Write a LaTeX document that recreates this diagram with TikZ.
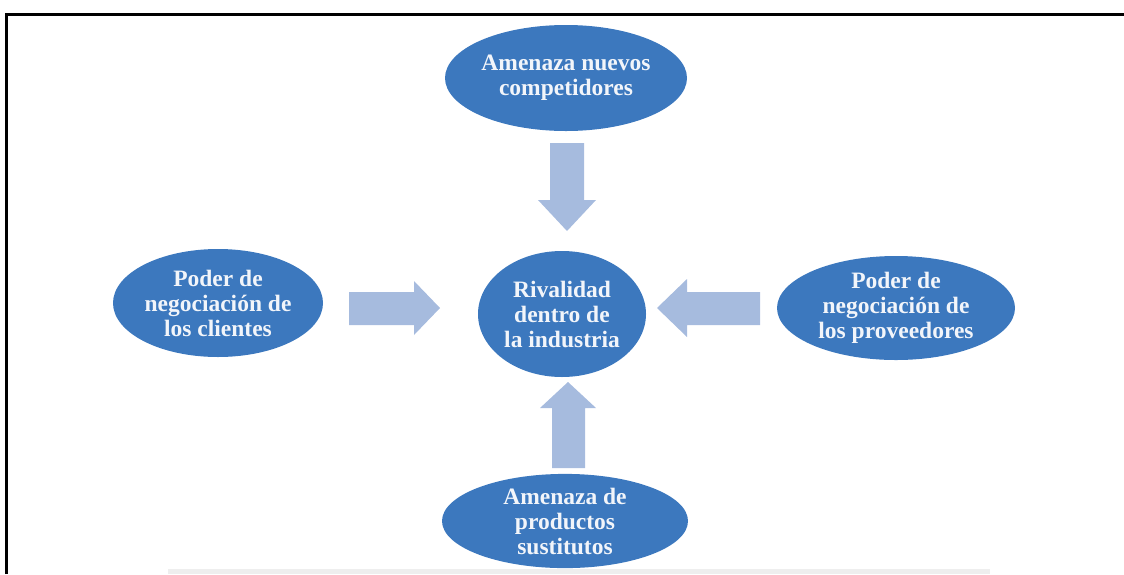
\documentclass[tikz,border=0pt]{standalone}
\usepackage{fontspec}
\setmainfont{Liberation Serif}
\usetikzlibrary{shapes.geometric}
\definecolor{ovalblue}{RGB}{60,120,190}
\definecolor{arrowblue}{RGB}{166,187,222}
\definecolor{txtwhite}{RGB}{242,245,250}
\definecolor{bandgray}{RGB}{238,238,238}
\tikzset{
  oval/.style={ellipse, fill=ovalblue, draw=none, inner sep=0pt, align=center,
    text=txtwhite, font=\fontsize{23.5}{25}\selectfont\bfseries},
  blockarrow/.style={fill=arrowblue, draw=none},
  frameline/.style={line width=3pt, black}
}
\begin{document}
\begin{tikzpicture}[x=1pt,y=-1pt]
\useasboundingbox (0,0) rectangle (1124,574);
% faint band at the bottom
\fill[bandgray] (168,569) rectangle (990,574);
% frame
\draw[frameline] (6,574) -- (6,14) -- (1124,14);
% ovals
\node[oval, minimum width=242, minimum height=106] (ent) at (566,78) {Amenaza nuevos\\competidores};
\node[oval, minimum width=168, minimum height=126] (riv) at (562,314) {Rivalidad\\dentro de\\la industria};
\node[oval, minimum width=246, minimum height=92] (sus) at (565,521) {Amenaza de\\productos\\sustitutos};
\node[oval, minimum width=210, minimum height=108] (cli) at (218,303) {Poder de\\negociación de\\los clientes};
\node[oval, minimum width=238, minimum height=104] (pro) at (896,308) {Poder de\\negociación de\\los proveedores};
% block arrows
% top -> centre (down)
\fill[blockarrow] (550,143) -- (584,143) -- (584,200) -- (596,200) -- (567,231) -- (538,200) -- (550,200) -- cycle;
% bottom -> centre (up)
\fill[blockarrow] (552,468) -- (585,468) -- (585,408) -- (596,408) -- (568,382) -- (540,408) -- (552,408) -- cycle;
% left -> centre (right)
\fill[blockarrow] (349,292) -- (414,292) -- (414,281) -- (440,308) -- (414,335) -- (414,325) -- (349,325) -- cycle;
% right -> centre (left)
\fill[blockarrow] (760,292) -- (687,292) -- (687,279) -- (657,308) -- (687,337) -- (687,325) -- (760,325) -- cycle;
\end{tikzpicture}
\end{document}
